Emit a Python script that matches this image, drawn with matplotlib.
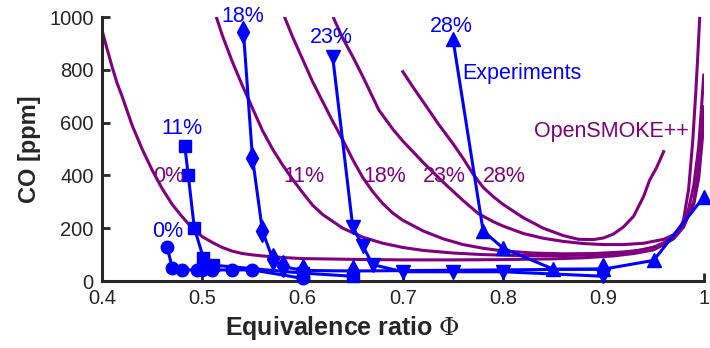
import matplotlib
matplotlib.use('Agg')
import matplotlib.pyplot as plt

plt.rcParams['font.family'] = ['Liberation Sans', 'DejaVu Sans']
plt.rcParams['mathtext.fontset'] = 'dejavuserif'

BLUE = '#0000ff'
PURPLE = '#800080'
AXIS = '#262626'

# measured CO vs equivalence ratio, one array pair per dilution level
exp_phi_0 = [0.465, 0.47, 0.48, 0.495, 0.50, 0.51, 0.53, 0.55, 0.60]
exp_co_0 = [128, 50, 42, 42, 42, 42, 42, 42, 10]
exp_phi_11 = [0.4825, 0.486, 0.492, 0.501, 0.511, 0.60, 0.65]
exp_co_11 = [512, 400, 202, 88, 60, 30, 18]
exp_phi_18 = [0.541, 0.55, 0.56, 0.57, 0.58, 0.60, 0.65, 0.90]
exp_co_18 = [944, 467, 189, 85, 55, 40, 38, 45]
exp_phi_23 = [0.63, 0.65, 0.66, 0.67, 0.70, 0.75, 0.80, 0.90]
exp_co_23 = [850, 205, 133, 62, 35, 35, 35, 18]
exp_phi_28 = [0.75, 0.78, 0.80, 0.85, 0.90, 0.95, 1.0]
exp_co_28 = [915, 190, 124, 45, 45, 78, 318]

# OpenSMOKE++ predictions
sim_phi_0 = [0.40, 0.405, 0.41, 0.415, 0.42, 0.43, 0.44, 0.45, 0.46, 0.47, 0.48,
             0.49, 0.50, 0.51, 0.52, 0.53, 0.54, 0.55, 0.56, 0.58, 0.60, 0.65,
             0.70, 0.75, 0.80, 0.85, 0.88, 0.91, 0.93, 0.95, 0.96, 0.97, 0.976,
             0.98, 0.985, 0.989, 0.992, 0.994, 0.996]
sim_co_0 = [950, 880, 812, 750, 700, 590, 500, 420, 350, 290, 243,
            200, 168, 146, 127, 113, 104, 99, 95, 89, 85, 82,
            80, 80, 81, 84, 88, 95, 104, 118, 138, 165, 188,
            235, 350, 530, 710, 850, 1000]
sim_phi_11 = [0.514, 0.52, 0.53, 0.54, 0.55, 0.56, 0.57, 0.58, 0.59, 0.60, 0.61,
              0.62, 0.64, 0.66, 0.68, 0.70, 0.72, 0.75, 0.78, 0.81, 0.85, 0.88,
              0.91, 0.93, 0.95, 0.96, 0.97, 0.98, 0.985, 0.99, 0.995, 1.0]
sim_co_11 = [1000, 930, 830, 740, 655, 570, 500, 440, 385, 335, 287,
             252, 200, 166, 143, 127, 116, 106, 100, 97, 96, 98,
             104, 112, 128, 145, 172, 225, 275, 360, 510, 780]
sim_phi_18 = [0.582, 0.59, 0.60, 0.61, 0.62, 0.63, 0.64, 0.65, 0.66, 0.67, 0.68,
              0.69, 0.70, 0.72, 0.74, 0.76, 0.78, 0.80, 0.83, 0.86, 0.89, 0.92,
              0.94, 0.96, 0.97, 0.98, 0.99, 0.995, 1.0]
sim_co_18 = [1000, 925, 840, 755, 680, 605, 535, 460, 392, 338, 293,
             257, 230, 190, 160, 138, 124, 114, 106, 103, 104, 110,
             118, 138, 160, 205, 300, 430, 660]
sim_phi_23 = [0.631, 0.64, 0.65, 0.66, 0.676, 0.69, 0.70, 0.72, 0.74, 0.76, 0.775,
              0.79, 0.80, 0.82, 0.84, 0.86, 0.88, 0.90, 0.92, 0.94, 0.96, 0.97,
              0.98, 0.99, 0.995, 1.0]
sim_co_23 = [995, 920, 850, 775, 648, 575, 530, 450, 375, 305, 256,
             225, 208, 180, 162, 150, 142, 138, 138, 143, 158, 175,
             210, 290, 390, 598]
sim_phi_28 = [0.70, 0.71, 0.72, 0.735, 0.75, 0.76, 0.77, 0.78, 0.79, 0.80, 0.82,
              0.84, 0.86, 0.875, 0.89, 0.90, 0.91, 0.92, 0.93, 0.94, 0.946, 0.953,
              0.96]
sim_co_28 = [793, 735, 680, 597, 520, 465, 405, 355, 320, 290, 240,
             200, 172, 158, 157, 163, 178, 205, 245, 320, 382, 430,
             490]

fig = plt.figure(figsize=(7.1, 3.48), dpi=100)
ax = fig.add_axes([0.1437, 0.1925, 0.8475, 0.7585])

sims = [(sim_phi_0, sim_co_0), (sim_phi_11, sim_co_11), (sim_phi_18, sim_co_18),
        (sim_phi_23, sim_co_23), (sim_phi_28, sim_co_28)]
for phi, co in sims:
    ax.plot(phi, co, color=PURPLE, lw=2.2, solid_joinstyle='round')

exps = [(exp_phi_0, exp_co_0, 'o', 9), (exp_phi_11, exp_co_11, 's', 8),
        (exp_phi_18, exp_co_18, 'd', 11), (exp_phi_23, exp_co_23, 'v', 9.5),
        (exp_phi_28, exp_co_28, '^', 9.5)]
for phi, co, m, ms in exps:
    ax.plot(phi, co, color=BLUE, lw=2.2, marker=m, ms=ms, clip_on=False, zorder=3)

fs = 15.5
for x, y, s in [(0.465, 187, '0%'), (0.4797, 578, '11%'), (0.5407, 1001, '18%'),
                (0.629, 922, '23%'), (0.748, 963, '28%'), (0.819, 788, 'Experiments')]:
    ax.text(x, y, s, color=BLUE, fontsize=fs, ha='center', va='center', clip_on=False)
for x, y, s in [(0.4665, 395, '0%'), (0.6016, 395, '11%'), (0.6824, 395, '18%'),
                (0.7417, 395, '23%'), (0.801, 395, '28%'), (0.908, 566, 'OpenSMOKE++')]:
    ax.text(x, y, s, color=PURPLE, fontsize=fs, ha='center', va='center')

ax.set_xlim(0.4, 1.0)
ax.set_ylim(0, 1000)
ax.set_xticks([0.4, 0.5, 0.6, 0.7, 0.8, 0.9, 1.0])
ax.set_xticklabels(['0.4', '0.5', '0.6', '0.7', '0.8', '0.9', '1'])
ax.set_yticks(range(0, 1001, 200))
for side in ['top', 'right']:
    ax.spines[side].set_visible(False)
for side in ['left', 'bottom']:
    ax.spines[side].set_linewidth(2.2)
    ax.spines[side].set_color(AXIS)
ax.tick_params(direction='in', length=6, width=2.0, color=AXIS,
               labelsize=14.5, labelcolor=AXIS, pad=6)
ax.set_xlabel('Equivalence ratio $\\Phi$', fontsize=18, fontweight='bold', color=AXIS)
ax.xaxis.set_label_coords(0.40, -0.125)
ax.set_ylabel('CO [ppm]', fontsize=17, fontweight='bold', color=AXIS, labelpad=6)

fig.savefig('out.png', dpi=100)
